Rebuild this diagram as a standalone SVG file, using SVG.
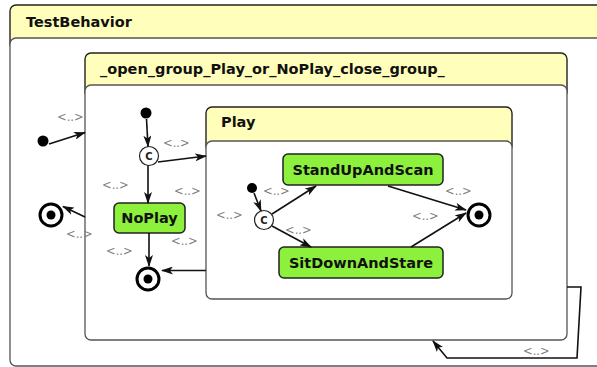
<svg xmlns="http://www.w3.org/2000/svg" width="597" height="367" viewBox="0 0 597 367">
  <style>
    .hdr { fill: #ffffbb; stroke: #222; stroke-width: 1.4; }
    .body { fill: #ffffff; stroke: #555; stroke-width: 1.3; }
    .title { font-family: "DejaVu Sans", sans-serif; font-weight: bold; font-size: 14.5px; fill: #111; }
    .state { fill: #8cf03c; stroke: #222; stroke-width: 1.5; }
    .sname { font-family: "DejaVu Sans", sans-serif; font-weight: bold; font-size: 14.5px; fill: #111; text-anchor: middle; }
    .init { fill: #000; }
    .ring { fill: #fff; stroke: #000; stroke-width: 3; }
    .dot { fill: #000; }
    .choice { fill: #fff; stroke: #222; stroke-width: 1.2; }
    .ctext { font-family: "DejaVu Sans", sans-serif; font-weight: bold; font-size: 10px; fill: #222; text-anchor: middle; }
    .edge { fill: none; stroke: #111; stroke-width: 1.6; marker-end: url(#arrow); }
    .lbl { font-family: "DejaVu Sans", sans-serif; font-size: 11.5px; fill: #808080; }
  </style>
  <defs>
    <marker id="arrow" viewBox="0 0 12 8" refX="11" refY="4" markerWidth="12" markerHeight="8" markerUnits="userSpaceOnUse" orient="auto">
      <path d="M0,0 L12,4 L0,8 L3,4 z" fill="#111"/>
    </marker>
  </defs>

  <!-- outer composite state -->
  <g id="TestBehavior">
    <rect class="hdr" x="10" y="5" width="600" height="45" rx="6"/>
    <rect class="body" x="10" y="38" width="600" height="328" rx="6"/>
    <text class="title" x="26" y="27">TestBehavior</text>
  </g>

  <!-- grouping state -->
  <g id="open_group">
    <rect class="hdr" x="85" y="53" width="482" height="45" rx="6"/>
    <rect class="body" x="85" y="85" width="482" height="255" rx="6"/>
    <text class="title" x="100" y="74">_open_group_Play_or_NoPlay_close_group_</text>
  </g>

  <!-- Play composite state -->
  <g id="Play">
    <rect class="hdr" x="206" y="107" width="306" height="45" rx="6"/>
    <rect class="body" x="206" y="141" width="306" height="158" rx="6"/>
    <text class="title" x="221" y="127">Play</text>
  </g>

  <g id="outer_initial"><circle class="init" cx="43" cy="141" r="5.5"/></g>
  <g id="outer_final"><circle class="ring" cx="51" cy="215" r="11"/><circle class="dot" cx="51" cy="215" r="4.5"/></g>

  <g id="group_initial"><circle class="init" cx="146" cy="113" r="5.5"/></g>
  <g id="group_choice"><circle class="choice" cx="149" cy="156" r="9.5"/><text class="ctext" x="149" y="159.5">C</text></g>
  <g id="NoPlay">
    <rect class="state" x="114" y="203" width="71" height="30" rx="5"/>
    <text class="sname" x="149.5" y="223">NoPlay</text>
  </g>
  <g id="group_final"><circle class="ring" cx="148" cy="279" r="11"/><circle class="dot" cx="148" cy="279" r="4.5"/></g>

  <g id="play_initial"><circle class="init" cx="252" cy="188" r="5"/></g>
  <g id="play_choice"><circle class="choice" cx="264" cy="220" r="9.5"/><text class="ctext" x="264" y="223.5">C</text></g>
  <g id="StandUpAndScan">
    <rect class="state" x="283" y="154" width="160" height="31" rx="5"/>
    <text class="sname" x="363" y="175">StandUpAndScan</text>
  </g>
  <g id="SitDownAndStare">
    <rect class="state" x="279" y="247" width="164" height="31" rx="5"/>
    <text class="sname" x="361" y="268">SitDownAndStare</text>
  </g>
  <g id="play_final"><circle class="ring" cx="479" cy="215" r="11"/><circle class="dot" cx="479" cy="215" r="4.5"/></g>

  <!-- transitions -->
  <g id="connectors">
    <path class="edge" d="M49,144 L85,132.5"/>
    <path class="edge" d="M85,217 L63,206.5"/>
    <path class="edge" d="M146.5,119 L148,146.5"/>
    <path class="edge" d="M158,162 L206,156"/>
    <path class="edge" d="M148,165.5 L148,203"/>
    <path class="edge" d="M149,233 L149,266"/>
    <path class="edge" d="M206,270.5 L162,270.5"/>
    <path class="edge" d="M254,193 L261,211"/>
    <path class="edge" d="M272,214 L316,186"/>
    <path class="edge" d="M272,226 L311,247"/>
    <path class="edge" d="M388,186 L466,210"/>
    <path class="edge" d="M411,247 L466,213"/>
    <path class="edge" d="M567,287 L581,287 L577,358 L447,358 L433,341"/>
  </g>

  <!-- transition labels -->
  <g id="labels">
    <text class="lbl" x="57" y="121">&lt;..&gt;</text>
    <text class="lbl" x="66" y="238">&lt;..&gt;</text>
    <text class="lbl" x="163" y="147">&lt;..&gt;</text>
    <text class="lbl" x="102" y="189">&lt;..&gt;</text>
    <text class="lbl" x="174" y="195">&lt;..&gt;</text>
    <text class="lbl" x="171" y="245">&lt;..&gt;</text>
    <text class="lbl" x="106" y="255">&lt;..&gt;</text>
    <text class="lbl" x="216" y="219">&lt;..&gt;</text>
    <text class="lbl" x="263" y="195">&lt;..&gt;</text>
    <text class="lbl" x="285" y="234">&lt;..&gt;</text>
    <text class="lbl" x="445" y="195">&lt;..&gt;</text>
    <text class="lbl" x="412" y="220">&lt;..&gt;</text>
    <text class="lbl" x="523" y="355">&lt;..&gt;</text>
  </g>
</svg>
